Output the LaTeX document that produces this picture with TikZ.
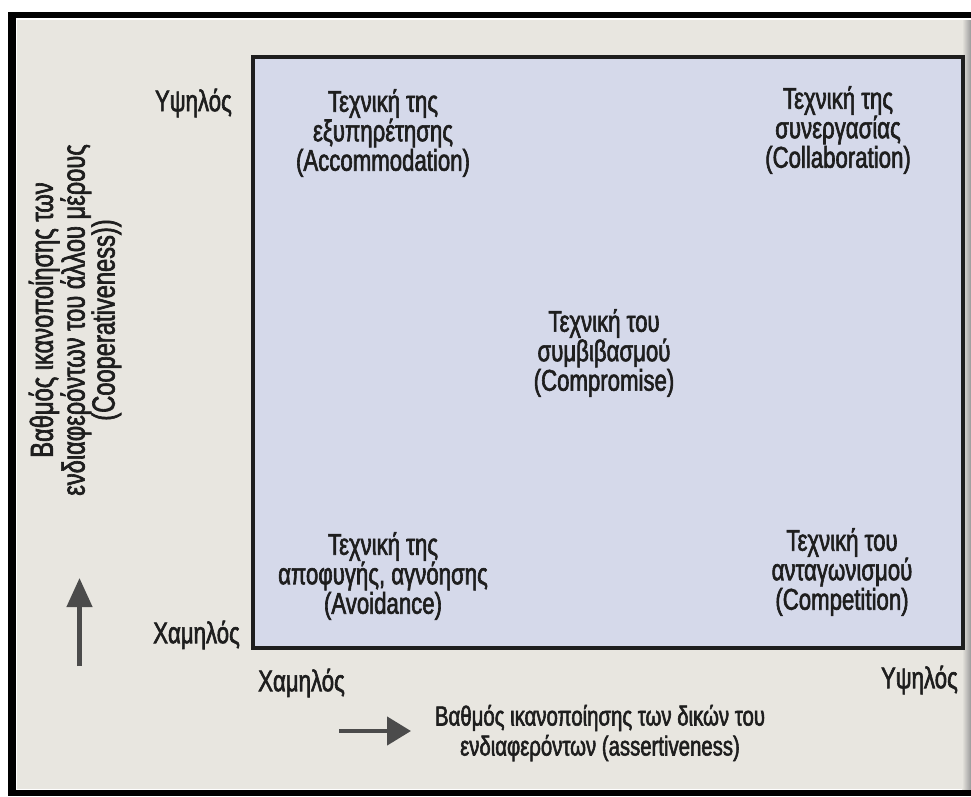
\documentclass[tikz,border=0pt]{standalone}
\usepackage{fontspec}
\setmainfont{Liberation Sans}[FakeStretch=0.74,FakeBold=2]
\usetikzlibrary{arrows.meta,positioning}

\definecolor{paper}{HTML}{E8E6E0}
\definecolor{quad}{HTML}{D5D9EA}
\definecolor{ink}{HTML}{1E1E1E}

\tikzset{
  lbl/.style={text=ink, align=center, inner sep=0pt, font=\fontsize{30}{29.5}\selectfont},
  axarrow/.style={draw=ink!80, line width=4.5pt}
}

\begin{document}
\begin{tikzpicture}[x=1pt,y=-1pt]
  \useasboundingbox (0,0) rectangle (971,796);
  % frame
  \fill[white] (0,0) rectangle (971,796);
  \fill[black] (8,12) rectangle (971,18);
  \fill[black] (8,12) rectangle (16,796);
  \fill[black] (8,790) rectangle (971,796);
  \fill[paper] (17,20) rectangle (971,789);
  \fill[left color=paper, right color=black!40] (962,20) rectangle (971,789);

  % square
  \node[draw=ink, line width=4pt, fill=quad, minimum width=710pt, minimum height=591pt, inner sep=0pt](box) at (608,352.5){};

  % quadrants
  \node[lbl](acc) at (383,133){Τεχνική της\\εξυπηρέτησης\\(Accommodation)};
  \node[lbl](col) at (838,130){Τεχνική της\\συνεργασίας\\(Collaboration)};
  \node[lbl](com) at (604,353){Τεχνική του\\συμβιβασμού\\(Compromise)};
  \node[lbl](avo) at (383,576){Τεχνική της\\αποφυγής, αγνόησης\\(Avoidance)};
  \node[lbl](cpt) at (842,572){Τεχνική του\\ανταγωνισμού\\(Competition)};

  % y axis
  \node[lbl, anchor=east](yhigh) at (232,103){Υψηλός};
  \node[lbl, anchor=east](ylow) at (240,635){Χαμηλός};
  \node[lbl, rotate=90, font=\fontsize{32}{30}\selectfont](ylab) at (75,320){Βαθμός ικανοποίησης των\\ενδιαφερόντων του άλλου μέρους\\(Cooperativeness))};
  \coordinate (ys) at (79.5,666);
  \coordinate (ye) at (79.5,578);
  \draw[axarrow, -{Triangle[width=25pt,length=29pt]}] (ys) -- (ye);

  % x axis
  \node[lbl, anchor=west](xlow) at (258,683){Χαμηλός};
  \node[lbl, anchor=east](xhigh) at (958,680){Υψηλός};
  \node[lbl, font=\fontsize{27.5}{30}\selectfont](xlab) at (600,733){Βαθμός ικανοποίησης των δικών του\\ενδιαφερόντων (assertiveness)};
  \coordinate (xs) at (339,731);
  \coordinate (xe) at (411,731);
  \draw[axarrow, -{Triangle[width=28pt,length=24pt]}] (xs) -- (xe);
\end{tikzpicture}
\end{document}
